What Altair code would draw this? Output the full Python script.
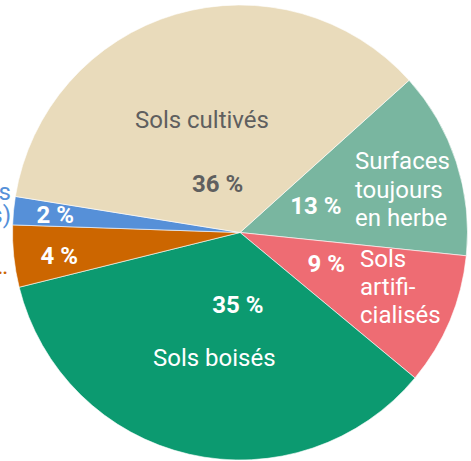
import math
import altair as alt
import pandas as pd

# ---- data ----
categories = ["Surfaces toujours en herbe", "Sols artificialisés", "Sols boisés",
              "Landes, friches, maquis", "Sols nus, zones humides", "Sols cultivés"]
values = [13.3, 9.4, 35.1, 4.4, 2.0, 35.8]
pct_labels = ["13 %", "9 %", "35 %", "4 %", "2 %", "36 %"]
colors = ["#79B6A0", "#EE6C73", "#0C9A70", "#CC6600", "#5690D8", "#E9DBBB"]

# ---- layout (angles in degrees clockwise from top, radii in px) ----
START_DEG = 48.0
R_OUT = 227.5
FS = 24

def to_units(deg):
    return ((deg - START_DEG) % 360) / 3.6

pct_angle = [71.7, 110.7, 181.6, 262.4, 275.1, 335.1]
pct_radius = [79.8, 92.1, 73.7, 182.4, 185.4, 52.9]
pct_color = ["#ffffff", "#ffffff", "#ffffff", "#ffffff", "#ffffff", "#5f5f5f"]

slices = pd.DataFrame({
    "name": categories, "value": values, "order": list(range(len(values))),
    "color": colors,
})
pct_df = pd.DataFrame({
    "text": pct_labels, "pos": [to_units(a) for a in pct_angle],
    "r": pct_radius, "color": pct_color,
})
center_names = pd.DataFrame({
    "text": ["Sols cultivés", "Sols boisés"],
    "pos": [to_units(341.2), to_units(191.5)],
    "r": [118.1, 129.1], "color": ["#5f5f5f", "#ffffff"],
})
left_names = pd.DataFrame({
    "text": ["Surfaces\ntoujours\nen herbe", "Sols\nartifi-\ncialisés"],
    "pos": [to_units(61.2), to_units(105.9)],
    "r": [131.2, 124.8],
})
outside_names = pd.DataFrame({
    "text": ["Sols nus et zones humides\n(y compris eaux et glaciers)", "Landes, friches, maquis…"],
    "pos": [to_units(278.1), to_units(259.9)],
    "r": [231.3, 235.7], "color": ["#5690D8", "#CC6600"],
})

theta_scale = alt.Scale(domain=[0, 100],
                        range=[math.radians(START_DEG), math.radians(START_DEG) + 2 * math.pi])

arcs = alt.Chart(slices).mark_arc(outerRadius=R_OUT, stroke="#ffffff", strokeWidth=0.6).encode(
    theta=alt.Theta("value:Q", stack=True, scale=theta_scale),
    order=alt.Order("order:Q"),
    color=alt.Color("color:N", scale=None),
)

pct = alt.Chart(pct_df).mark_text(font="Roboto", fontSize=FS, fontWeight="bold",
                                  align="center", baseline="middle").encode(
    theta=alt.Theta("pos:Q", stack=False, scale=theta_scale),
    radius=alt.Radius("r:Q", scale=None),
    text="text:N",
    color=alt.Color("color:N", scale=None),
)

cnames = alt.Chart(center_names).mark_text(font="Roboto", fontSize=FS,
                                          align="center", baseline="middle").encode(
    theta=alt.Theta("pos:Q", stack=False, scale=theta_scale),
    radius=alt.Radius("r:Q", scale=None),
    text="text:N",
    color=alt.Color("color:N", scale=None),
)

lnames = alt.Chart(left_names).mark_text(font="Roboto", fontSize=FS, align="left",
                                        baseline="alphabetic", lineBreak="\n",
                                        lineHeight=28.3, color="#ffffff").encode(
    theta=alt.Theta("pos:Q", stack=False, scale=theta_scale),
    radius=alt.Radius("r:Q", scale=None),
    text="text:N",
)

onames = alt.Chart(outside_names).mark_text(font="Roboto", fontSize=FS, align="right",
                                           baseline="alphabetic", lineBreak="\n",
                                           lineHeight=23.5).encode(
    theta=alt.Theta("pos:Q", stack=False, scale=theta_scale),
    radius=alt.Radius("r:Q", scale=None),
    text="text:N",
    color=alt.Color("color:N", scale=None),
)

chart = alt.layer(arcs, pct, cnames, lnames, onames).properties(
    width=462, height=457,
    padding={"left": 9, "top": 4, "right": 0, "bottom": 0},
    autosize=alt.AutoSizeParams(type="none"),
).configure_view(stroke=None)

chart.save("out.html", embed_options={"renderer": "svg", "actions": False})
